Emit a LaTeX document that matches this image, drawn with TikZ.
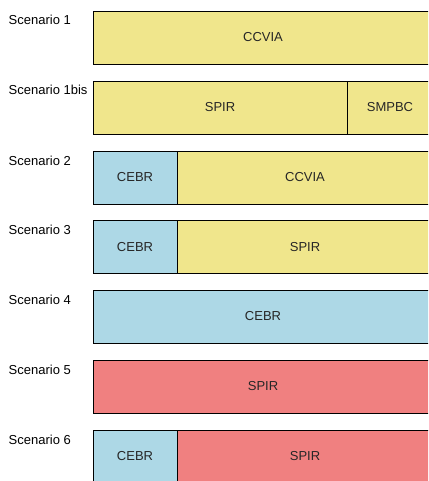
\documentclass[tikz,border=0pt]{standalone}
\usepackage{fontspec}
\setmainfont{Liberation Sans}
\usepackage{xcolor}
\usepackage{tikz}
\usetikzlibrary{positioning}
\definecolor{khaki}{RGB}{240,230,140}
\definecolor{lightblue}{RGB}{173,216,230}
\definecolor{lightcoral}{RGB}{240,128,128}

\begin{document}
\begin{tikzpicture}[x=1pt, y=-1pt,
  part/.style={draw, line width=0.8pt, minimum height=53, inner sep=0pt, outer sep=0pt,
    text=black!85, font=\fontsize{13}{15}\selectfont},
  lbl/.style={anchor=base west, inner sep=0pt, font=\fontsize{13}{15}\selectfont}]
  \useasboundingbox (0,0) rectangle (428,481);
  \clip (0,0) rectangle (428,481);
  % scenario names
  \node[lbl] (L1) at (8.5,25) {Scenario 1};
  \node[lbl] (L1b) at (8.5,95) {Scenario 1bis};
  \node[lbl] (L2) at (8.5,165) {Scenario 2};
  \node[lbl] (L3) at (8.5,234.5) {Scenario 3};
  \node[lbl] (L4) at (8.5,304) {Scenario 4};
  \node[lbl] (L5) at (8.5,374) {Scenario 5};
  \node[lbl] (L6) at (8.5,444) {Scenario 6};
  % bars
  \node[part, fill=khaki, minimum width=340, anchor=north west] (S1) at (93,11) {CCVIA};
  \node[part, fill=khaki, minimum width=254, anchor=north west] (S1bA) at (93,81) {SPIR};
  \node[part, fill=khaki, minimum width=86, right=0pt of S1bA] (S1bB) {SMPBC};
  \node[part, fill=lightblue, minimum width=84, anchor=north west] (S2A) at (93,151) {CEBR};
  \node[part, fill=khaki, minimum width=256, right=0pt of S2A] (S2B) {CCVIA};
  \node[part, fill=lightblue, minimum width=84, anchor=north west] (S3A) at (93,220.5) {CEBR};
  \node[part, fill=khaki, minimum width=256, right=0pt of S3A] (S3B) {SPIR};
  \node[part, fill=lightblue, minimum width=340, anchor=north west] (S4) at (93,290) {CEBR};
  \node[part, fill=lightcoral, minimum width=340, anchor=north west] (S5) at (93,360) {SPIR};
  \node[part, fill=lightblue, minimum width=84, anchor=north west] (S6A) at (93,430) {CEBR};
  \node[part, fill=lightcoral, minimum width=256, right=0pt of S6A] (S6B) {SPIR};
\end{tikzpicture}
\end{document}
